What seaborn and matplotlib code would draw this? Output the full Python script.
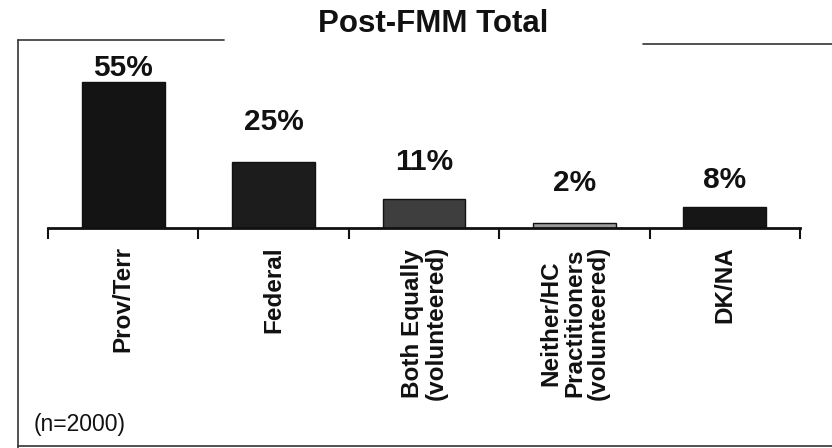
import numpy as np
import pandas as pd
import matplotlib
matplotlib.use("Agg")
import matplotlib.pyplot as plt
from matplotlib.lines import Line2D
import seaborn as sns

# data
categories = ["Prov/Terr", "Federal", "Both Equally\n(volunteered)",
              "Neither/HC\nPractitioners\n(volunteered)", "DK/NA"]
values = [55, 25, 11, 2, 8]
value_labels = ["55%", "25%", "11%", "2%", "8%"]
title = "Post-FMM Total"
note = "(n=2000)"

sns.set_theme(style="white")
plt.rcParams["font.family"] = ["Liberation Sans", "DejaVu Sans"]

bar_colors = ["#141414", "#1c1c1c", "#3e3e3e", "#9a9a9a", "#161616"]
label_lift = [5.6, 15.2, 14.0, 15.0, 10.2]   # label centre above bar top (data units)

df = pd.DataFrame({"cat": categories, "val": values})

fig = plt.figure(figsize=(8.32, 4.48), dpi=100)
ax = fig.add_axes([48 / 832, (448 - 228) / 448, 752 / 832, 188 / 448])

sns.barplot(data=df, x="cat", y="val", hue="cat", palette=bar_colors,
            width=0.55, legend=False, ax=ax, edgecolor="#111111", linewidth=1)

ax.set_xlim(-0.5, 4.5)
ax.set_ylim(0, 71)
ax.set_xlabel("")
ax.set_ylabel("")
ax.set_yticks([])
for side in ["top", "right", "left"]:
    ax.spines[side].set_visible(False)
ax.spines["bottom"].set_linewidth(2)
ax.spines["bottom"].set_color("#111111")

ax.set_xticks(np.arange(-0.5, 5, 1), minor=True)
ax.tick_params(axis="x", which="minor", length=8, width=1.5, color="#111111",
               direction="out", bottom=True)
ax.tick_params(axis="x", which="major", length=0, pad=13)
ax.set_xticks(range(len(categories)))
ax.set_xticklabels(categories, rotation=90, fontsize=17.5, fontweight="bold",
                   va="top", ha="center", multialignment="center",
                   linespacing=1.05, color="#111111")

for i, (v, lab) in enumerate(zip(values, value_labels)):
    ax.text(i, v + label_lift[i], lab, ha="center", va="center",
            fontsize=21.5, fontweight="bold", color="#111111")

# frame around the chart, broken by the title
def fline(x0, y0, x1, y1, lw=1.2):
    fig.add_artist(Line2D([x0 / 832, x1 / 832], [1 - y0 / 448, 1 - y1 / 448],
                          color="#333333", lw=lw, transform=fig.transFigure))

fline(18, 40, 224, 40)
fline(643, 44, 832, 44)
fline(18, 40, 18, 448)
fline(18, 446, 832, 446)

fig.text(433 / 832, 1 - 24 / 448, title, ha="center", va="center",
         fontsize=22.5, fontweight="bold", color="#111111")
fig.text(34 / 832, 1 - 424 / 448, note, ha="left", va="center",
         fontsize=16.5, color="#111111")

fig.savefig("out.png", dpi=100, facecolor="white")
